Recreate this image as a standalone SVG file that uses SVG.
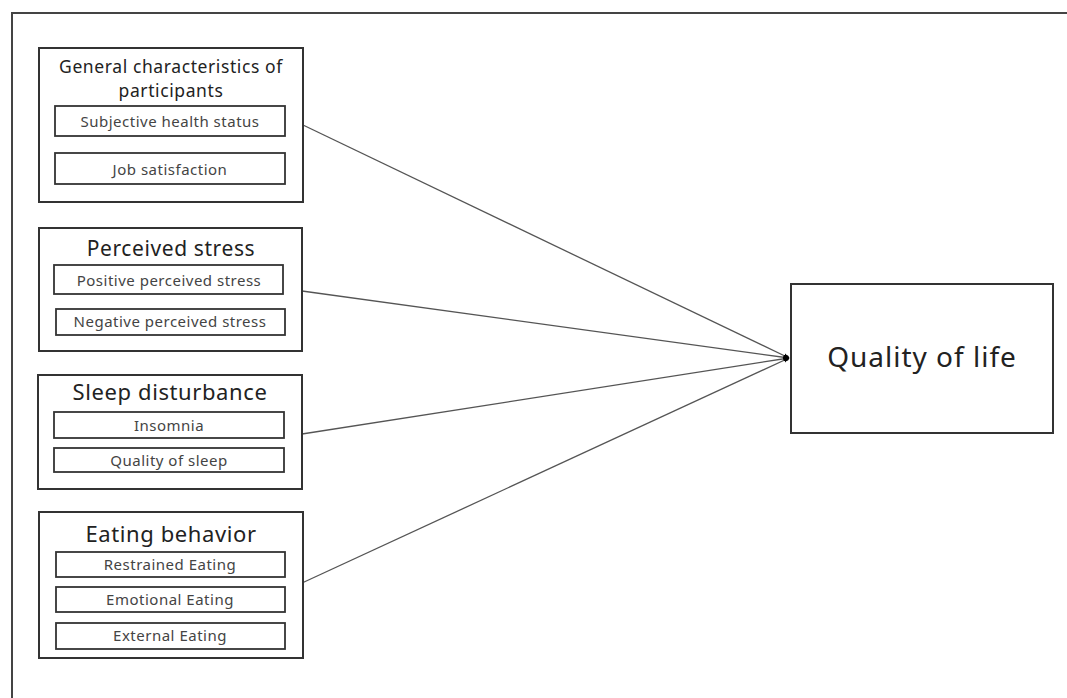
<svg xmlns="http://www.w3.org/2000/svg" width="1067" height="698" viewBox="0 0 1067 698">
<style>
.frame{fill:none;stroke:#444;stroke-width:2}
.box{fill:#fff;stroke:#333;stroke-width:2}
.sub{fill:#fff;stroke:#333;stroke-width:1.8}
.title{font-family:"Noto Sans","Open Sans",sans-serif;fill:#222;text-anchor:middle;letter-spacing:0.6px}
.st{font-family:"Noto Sans","Open Sans",sans-serif;font-size:15px;fill:#444;text-anchor:middle;letter-spacing:0.5px}
.conn{fill:none;stroke:#555;stroke-width:1.3}
</style>
<defs>
<marker id="arr" viewBox="0 0 10 10" refX="9" refY="5" markerWidth="6" markerHeight="6" markerUnits="userSpaceOnUse" orient="auto">
<path d="M0,1 L10,5 L0,9 Z" fill="#000"/>
</marker>
</defs>
<rect width="1067" height="698" fill="#fff"/>
<path class="frame" d="M12,698 L12,13 L1067,13"/>
<g id="connectors">
<line class="conn" x1="303" y1="125" x2="789" y2="358" marker-end="url(#arr)"/>
<line class="conn" x1="302" y1="291" x2="789" y2="358" marker-end="url(#arr)"/>
<line class="conn" x1="302" y1="434" x2="789" y2="358" marker-end="url(#arr)"/>
<line class="conn" x1="302" y1="583" x2="789" y2="358" marker-end="url(#arr)"/>
<circle cx="786" cy="358" r="3" fill="#000"/>
</g>
<g id="general">
<rect class="box" x="39" y="48" width="264" height="154"/>
<text class="title" x="171" y="73" font-size="17.5">General characteristics of</text>
<text class="title" x="171" y="97" font-size="17.5">participants</text>
<rect class="sub" x="55" y="106" width="230" height="30"/>
<text class="st" x="170" y="127">Subjective health status</text>
<rect class="sub" x="55" y="153" width="230" height="31"/>
<text class="st" x="170" y="175">Job satisfaction</text>
</g>
<g id="stress">
<rect class="box" x="39" y="228" width="263" height="123"/>
<text class="title" x="171" y="256" font-size="21">Perceived stress</text>
<rect class="sub" x="54" y="265" width="229" height="29"/>
<text class="st" x="169" y="286">Positive perceived stress</text>
<rect class="sub" x="56" y="309" width="229" height="26"/>
<text class="st" x="170" y="327">Negative perceived stress</text>
</g>
<g id="sleep">
<rect class="box" x="38" y="375" width="264" height="114"/>
<text class="title" x="170" y="400" font-size="22">Sleep disturbance</text>
<rect class="sub" x="54" y="412" width="230" height="26"/>
<text class="st" x="169" y="431">Insomnia</text>
<rect class="sub" x="54" y="448" width="230" height="24"/>
<text class="st" x="169" y="466">Quality of sleep</text>
</g>
<g id="eating">
<rect class="box" x="39" y="512" width="264" height="146"/>
<text class="title" x="171" y="542" font-size="22">Eating behavior</text>
<rect class="sub" x="56" y="552" width="229" height="25"/>
<text class="st" x="170" y="570">Restrained Eating</text>
<rect class="sub" x="56" y="587" width="229" height="25"/>
<text class="st" x="170" y="605">Emotional Eating</text>
<rect class="sub" x="56" y="623" width="229" height="26"/>
<text class="st" x="170" y="641">External Eating</text>
</g>
<g id="qol">
<rect class="box" x="791" y="284" width="262" height="149"/>
<text class="title" x="922" y="367" font-size="28" style="letter-spacing:1px">Quality of life</text>
</g>
</svg>
